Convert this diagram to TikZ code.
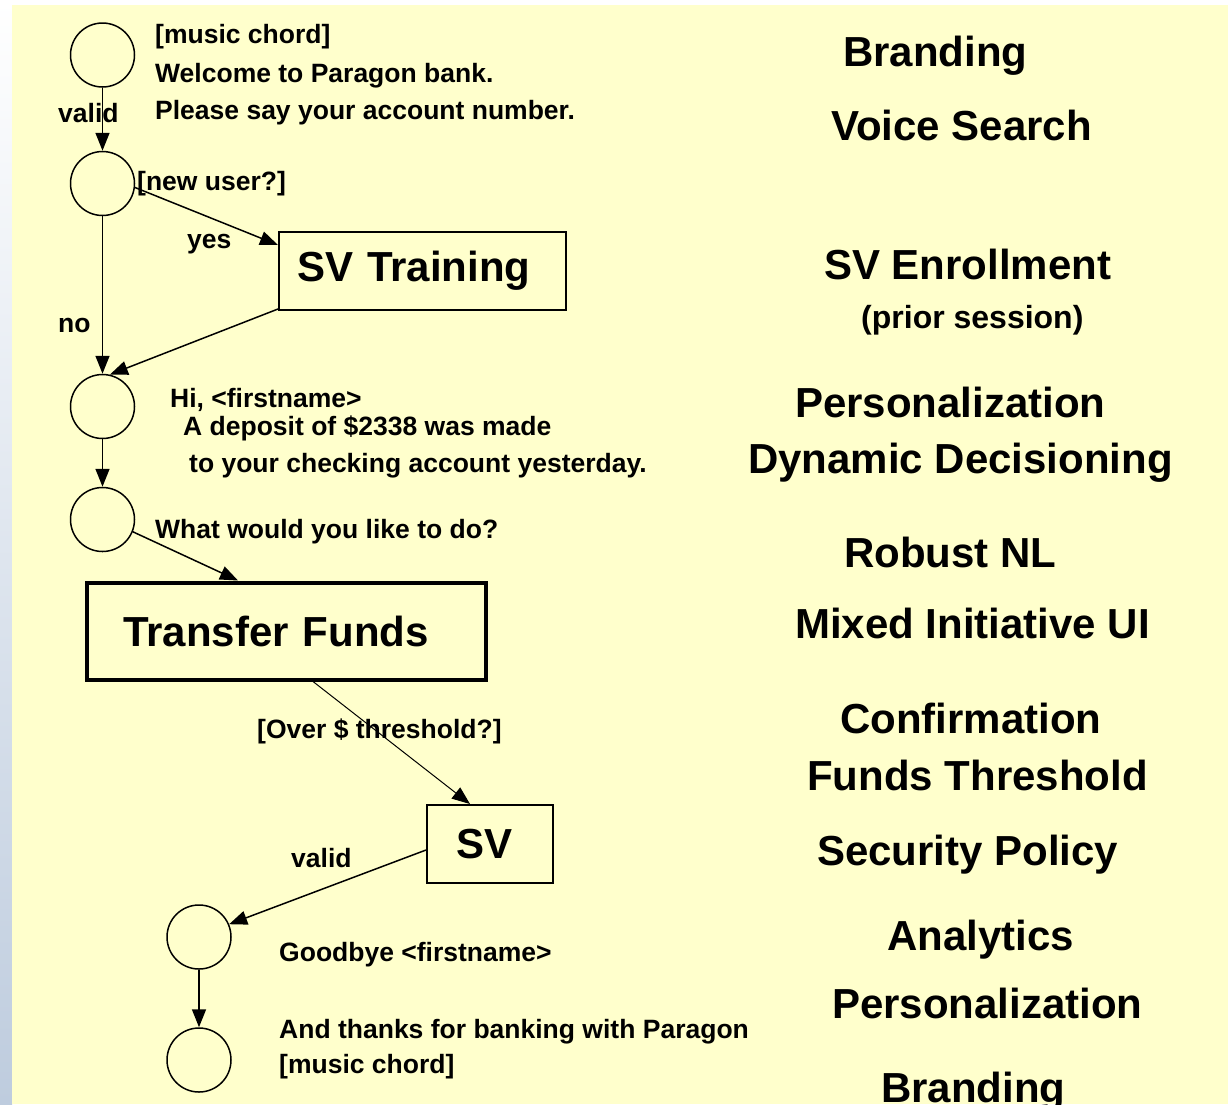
\documentclass[tikz,border=0pt]{standalone}
\usepackage{fontspec}
\setmainfont{Liberation Sans}
\usetikzlibrary{arrows.meta}
\definecolor{bgyellow}{RGB}{255,255,204}
\definecolor{stripmid}{RGB}{228,235,245}
\definecolor{stripbot}{RGB}{190,204,222}
\begin{document}
\begin{tikzpicture}[x=1pt,y=-1pt,
  state/.style={circle, draw, line width=1.5pt, minimum size=64pt, inner sep=0pt},
  arr/.style={-{Triangle[length=18pt,width=14pt]}, line width=1.5pt},
  small/.style={font=\fontsize{26.5}{30}\selectfont\bfseries, inner sep=0pt, anchor=base west},
  big/.style={font=\fontsize{42}{48}\selectfont\bfseries, inner sep=0pt, anchor=base west},
  mid/.style={font=\fontsize{32}{36}\selectfont\bfseries, inner sep=0pt, anchor=base west},
  box/.style={draw, font=\fontsize{42}{48}\selectfont\bfseries, align=left, inner ysep=0pt},
]
\useasboundingbox (0,0) rectangle (1228,1104);
\fill[white] (0,0) rectangle (1228,1104);
\shade[top color=white, middle color=stripmid, bottom color=stripbot] (0,0) rectangle (12,1104);
\fill[bgyellow] (12,5) rectangle (1228,1104);

% states
\node[state] (c1) at (102.5,55) {};
\node[state] (c2) at (102.5,183.5) {};
\node[state] (c3) at (102.5,406.5) {};
\node[state] (c4) at (102.5,519.5) {};
\node[state] (c5) at (199,937) {};
\node[state] (c6) at (199,1060) {};

% boxes
\node[box, line width=2pt, minimum height=78pt, text width=251pt, inner xsep=18pt] (svt) at (422.5,271) {SV Training};
\node[box, line width=4pt, minimum height=97pt, text width=327pt, inner xsep=36pt] (tf) at (286.5,631) {Transfer Funds};
\node[box, line width=2pt, minimum height=78pt, text width=68pt, inner xsep=29pt] (sv) at (490,844) {SV};

% connectors
\draw[arr] (c1) -- (c2);
\draw[arr] (c2.-7) -- ([yshift=-14pt]svt.north west);
\draw[arr] (c2) -- (c3);
\draw[arr] ([yshift=2pt]svt.south west) -- (c3.77);
\draw[arr] (c3) -- (c4);
\draw[arr] (c4.-22) -- ([xshift=153pt]tf.north west);
\draw[arr, line width=1pt] ([xshift=228pt]tf.south west) -- ([xshift=44pt]sv.north west);
\draw[arr] ([yshift=-6pt]sv.west) -- (c5.23);
\draw[arr] (c5) -- (c6);

% prompts and labels
\node[small] (m1) at (155,43) {[music chord]};
\node[small] (m2) at (155,82) {Welcome to Paragon bank.};
\node[small] (m3) at (155,119) {Please say your account number.};
\node[small] (lv1) at (58,122) {valid};
\node[small] (lnu) at (137,190) {[new user?]};
\node[small] (lyes) at (187,248) {yes};
\node[small] (lno) at (58,332) {no};
\node[small] (h1) at (170,407) {Hi, <firstname>};
\node[small] (h2) at (183,435) {A deposit of \$2338 was made};
\node[small] (h3) at (189,472) {to your checking account yesterday.};
\node[small] (h4) at (155,538) {What would you like to do?};
\node[small] (lover) at (257,738) {[Over \$ threshold?]};
\node[small] (lv2) at (291,867) {valid};
\node[small] (g1) at (279,961) {Goodbye <firstname>};
\node[small] (g2) at (279,1038) {And thanks for banking with Paragon};
\node[small] (g3) at (279,1073) {[music chord]};

% right column
\node[big] (r1) at (843,66) {Branding};
\node[big] (r2) at (831,140) {Voice Search};
\node[big] (r3) at (824,279) {SV Enrollment};
\node[mid] (r4) at (861,328) {(prior session)};
\node[big] (r5) at (795,417) {Personalization};
\node[big] (r6) at (748,473) {Dynamic Decisioning};
\node[big] (r7) at (844,567) {Robust NL};
\node[big] (r8) at (795,638) {Mixed Initiative UI};
\node[big] (r9) at (840,733) {Confirmation};
\node[big] (r10) at (807,790) {Funds Threshold};
\node[big] (r11) at (817,865) {Security Policy};
\node[big] (r12) at (887,950) {Analytics};
\node[big] (r13) at (832,1018) {Personalization};
\node[big] (r14) at (881,1102) {Branding};
\end{tikzpicture}
\end{document}
